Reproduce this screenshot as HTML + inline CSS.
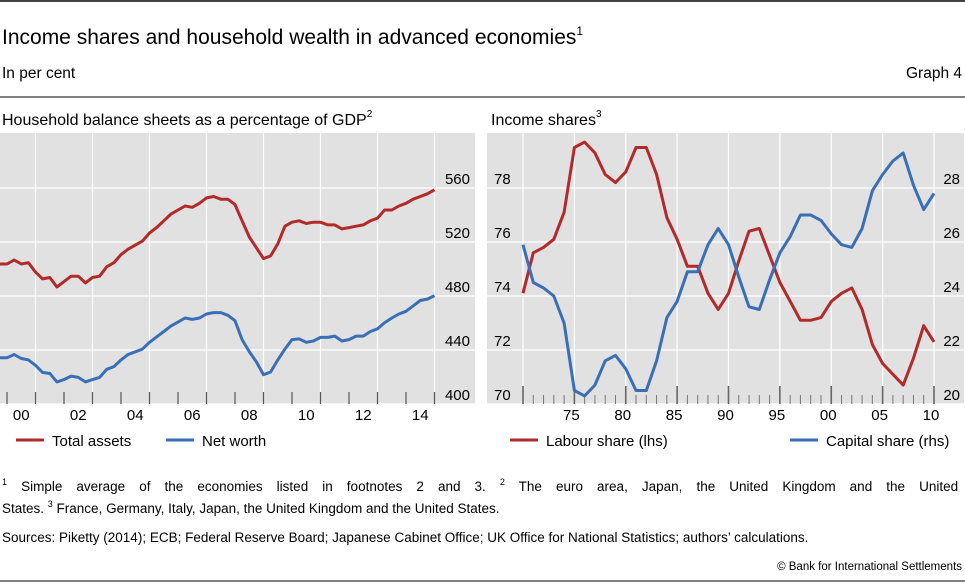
<!DOCTYPE html>
<html><head><meta charset="utf-8">
<style>
body{margin:0;background:#fff;width:965px;height:583px;overflow:hidden;font-family:"Liberation Sans",sans-serif;}
svg{display:block}
text{font-family:"Liberation Sans",sans-serif;fill:#000}
</style></head>
<body>
<svg id="c" width="965" height="583">
<line x1="0" y1="1" x2="965" y2="1" stroke="#000" stroke-width="1.5"/>
<text x="2" y="44" font-size="21">Income shares and household wealth in advanced economies<tspan font-size="12" dy="-9">1</tspan></text>
<text x="2" y="78" font-size="15.5">In per cent</text>
<text x="962" y="78" font-size="15.5" text-anchor="end">Graph 4</text>
<line x1="0" y1="97" x2="965" y2="97" stroke="#555" stroke-width="1.5"/>
<text x="2" y="125" font-size="16">Household balance sheets as a percentage of GDP<tspan font-size="10" dy="-8">2</tspan></text>
<text x="491" y="125" font-size="16">Income shares<tspan font-size="10" dy="-8">3</tspan></text>
<rect x="0" y="133" width="475" height="271" fill="#e1e1e1"/>
<rect x="487" y="133" width="477" height="271" fill="#e1e1e1"/>
<g id="L"></g><g id="R"></g>
<g>
<line x1="16" y1="440" x2="44" y2="440" stroke="#b22a2a" stroke-width="3"/>
<text x="52" y="446" font-size="15">Total assets</text>
<line x1="166" y1="440" x2="194" y2="440" stroke="#3a6fb7" stroke-width="3"/>
<text x="202" y="446" font-size="15">Net worth</text>
</g>
<g>
<line x1="510" y1="440" x2="538" y2="440" stroke="#b22a2a" stroke-width="3"/>
<text x="546" y="446" font-size="15">Labour share (lhs)</text>
<line x1="790" y1="440" x2="818" y2="440" stroke="#3a6fb7" stroke-width="3"/>
<text x="826" y="446" font-size="15">Capital share (rhs)</text>
</g>
<g font-size="13.5">
<text x="2" y="491" word-spacing="10.3"><tspan font-size="9" dy="-6">1</tspan><tspan dy="6"> Simple average of the economies listed in footnotes 2 and 3.  </tspan><tspan font-size="9" dy="-6">2</tspan><tspan dy="6"> The euro area, Japan, the United Kingdom and the United</tspan></text>
<text x="2" y="513">States.   <tspan font-size="9" dy="-6">3</tspan><tspan dy="6"> France, Germany, Italy, Japan, the United Kingdom and the United States.</tspan></text>
<text x="2" y="542">Sources: Piketty (2014); ECB; Federal Reserve Board; Japanese Cabinet Office; UK Office for National Statistics; authors’ calculations.</text>
</g>
<text x="962" y="570" font-size="11.5" text-anchor="end">© Bank for International Settlements</text>
<line x1="0" y1="581" x2="965" y2="581" stroke="#555" stroke-width="1.5"/>
</svg>
<script>
const NS="http://www.w3.org/2000/svg";
// Left panel data (quarterly from 1999Q4)
const leftStart=1999.75;
const totalAssets=[503.7,503.7,506.7,503.7,504.7,497.7,492.7,493.7,486.7,490.7,494.7,494.7,489.7,493.7,494.7,501.7,504.7,510.7,514.7,517.7,520.7,526.7,530.7,535.7,540.7,543.7,546.7,545.7,548.7,552.7,553.7,551.7,551.7,547.7,535.7,523.7,515.7,507.7,509.7,518.7,531.7,534.7,535.7,533.7,534.7,534.7,532.7,532.7,529.7,530.7,531.7,532.7,535.7,537.7,543.7,543.7,546.7,548.7,551.7,553.7,555.7,558.7];
const netWorth=[434.2,434.2,436.7,433.7,432.7,428.7,423.3,422.7,416.4,418.1,420.7,419.7,416.4,418.1,419.7,425.7,427.7,432.7,436.7,438.7,440.7,445.7,449.7,453.7,457.7,460.7,463.7,462.7,463.7,466.7,467.7,467.7,465.7,461.7,447.7,438.7,431.2,421.7,423.7,432.7,440.7,447.7,448.2,445.7,446.7,449.3,449.3,450.3,446.7,447.7,450.3,450.3,453.7,455.7,460.2,463.7,466.7,468.7,472.7,476.7,477.7,480.3];
const leftTicks=[400,440,480,520,560];
const leftYearLabels=["00","02","04","06","08","10","12","14"];
// Right panel data (annual 1970-2010)
const rightStart=1970;
const labourShare=[74.1,75.6,75.8,76.1,77.1,79.5,79.7,79.3,78.5,78.2,78.6,79.5,79.5,78.5,76.9,76.1,75.1,75.1,74.1,73.5,74.1,75.3,76.4,76.5,75.5,74.5,73.8,73.1,73.1,73.2,73.8,74.1,74.3,73.5,72.2,71.5,71.1,70.7,71.7,72.9,72.3];
const capitalShare=[25.9,24.5,24.3,24.0,23.0,20.5,20.3,20.7,21.6,21.8,21.3,20.5,20.5,21.6,23.2,23.8,24.9,24.9,25.9,26.5,25.9,24.7,23.6,23.5,24.6,25.6,26.2,27.0,27.0,26.8,26.3,25.9,25.8,26.5,27.9,28.5,29.0,29.3,28.1,27.2,27.8];
const lhsTicks=[70,72,74,76,78];
const rhsTicks=[20,22,24,26,28];
const rightYearLabels=["75","80","85","90","95","00","05","10"];

const lx=y=>7+(y-2000)*28.5, ly=v=>404-(v-400)*1.35;
const rx=y=>523+(y-1970)*10.275, ryl=v=>404-(v-70)*27, ryr=v=>404-(v-20)*27;

function mk(tag,attrs,parent){const e=document.createElementNS(NS,tag);for(const k in attrs)e.setAttribute(k,attrs[k]);parent.appendChild(e);return e;}
const L=document.getElementById('L'),R=document.getElementById('R');

leftTicks.forEach(v=>{
  const g=mk('line',{x1:0,x2:475,y1:ly(v),y2:ly(v),stroke:'#fff','stroke-width':1.2},L);
  
  
  const t=mk('text',{x:470,y:ly(v)-4,'font-size':15,'text-anchor':'end'},L);
  t.textContent=v;
  
  
});
for(let y=2001;y<=2015;y+=2){
  const g=mk('line',{x1:lx(y),x2:lx(y),y1:133,y2:404,stroke:'#fff','stroke-width':1.2},L);
  
  
}
for(let y=2000;y<=2015;y++){
  const t=mk('line',{x1:lx(y),x2:lx(y),y1:392,y2:404,stroke:'#555','stroke-width':1.2},L);
  
  
}
leftYearLabels.forEach((s,i)=>{
  const t=mk('text',{x:lx(2000+2*i+0.5),y:420,'font-size':15,'text-anchor':'middle'},L);
  t.textContent=s;
  
  
});
function series(arr,xf,yf,col,parent,name){
  const pts=arr.map((v,i)=>xf(i).toFixed(1)+','+yf(v).toFixed(1)).join(' ');
  const p=mk('polyline',{points:pts,fill:'none',stroke:col,'stroke-width':3,'stroke-linejoin':'round'},parent);
  
  
}
series(totalAssets,i=>lx(leftStart+i*0.25),ly,'#b22a2a',L,'total-assets-line');
series(netWorth,i=>lx(leftStart+i*0.25),ly,'#3a6fb7',L,'net-worth-line');

lhsTicks.forEach((v,i)=>{
  const g=mk('line',{x1:487,x2:964,y1:ryl(v),y2:ryl(v),stroke:'#fff','stroke-width':1.2},R);
  
  
  const t=mk('text',{x:494,y:ryl(v)-4,'font-size':15},R);
  t.textContent=v;
  
  
  const t2=mk('text',{x:960,y:ryr(rhsTicks[i])-4,'font-size':15,'text-anchor':'end'},R);
  t2.textContent=rhsTicks[i];
  
  
});
for(let y=1970;y<=2010;y++){
  const major=y%5===0;
  if(major){
    const g=mk('line',{x1:rx(y),x2:rx(y),y1:133,y2:404,stroke:'#fff','stroke-width':1.2},R);
    
    
  }
  const t=mk('line',{x1:rx(y),x2:rx(y),y1:major?386:395,y2:404,stroke:major?'#666':'#777','stroke-width':major?1.6:1},R);
  
  
}
rightYearLabels.forEach((s,i)=>{
  const t=mk('text',{x:rx(1975+5*i)-3,y:420,'font-size':15,'text-anchor':'middle'},R);
  t.textContent=s;
  
  
});
series(labourShare,i=>rx(rightStart+i),ryl,'#b22a2a',R,'labour-share-line');
series(capitalShare,i=>rx(rightStart+i),ryr,'#3a6fb7',R,'capital-share-line');
</script>
</body></html>
